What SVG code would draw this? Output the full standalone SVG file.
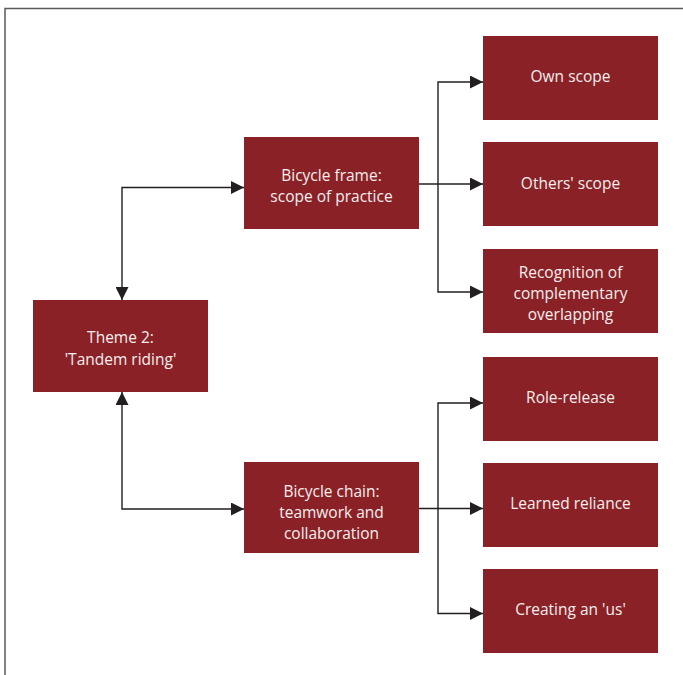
<svg xmlns="http://www.w3.org/2000/svg" width="683" height="675" viewBox="0 0 683 675">
<defs>
<marker id="ah" markerUnits="userSpaceOnUse" markerWidth="13" markerHeight="13" viewBox="0 0 12 12" refX="12" refY="6" orient="auto">
<path d="M0,0 L12,6 L0,12 Z" fill="#231f20"/>
</marker>
<marker id="ahs" markerUnits="userSpaceOnUse" markerWidth="13" markerHeight="13" viewBox="0 0 12 12" refX="12" refY="6" orient="auto-start-reverse">
<path d="M0,0 L12,6 L0,12 Z" fill="#231f20"/>
</marker>
<style>
.box{fill:#8a2126}
.t{fill:#f6eeee;font-family:"Open Sans","Noto Sans",sans-serif;font-size:15.5px;text-anchor:middle}
.c{fill:none;stroke:#231f20;stroke-width:1.4}
</style>
</defs>
<rect width="683" height="675" fill="#fff"/>
<path d="M5,675 V8.5 H683" fill="none" stroke="#5a5a5a" stroke-width="1.5"/>
<g id="connectors">
<path class="c" d="M122,300 V187.5 H244" marker-start="url(#ahs)" marker-end="url(#ah)"/>
<path class="c" d="M122,392 V509 H244" marker-start="url(#ahs)" marker-end="url(#ah)"/>
<path class="c" d="M419,184 H483" marker-end="url(#ah)"/>
<path class="c" d="M483,82 H438 V292 H483" marker-start="url(#ahs)" marker-end="url(#ah)"/>
<path class="c" d="M419,508.5 H483" marker-end="url(#ah)"/>
<path class="c" d="M483,403 H438 V613.5 H483" marker-start="url(#ahs)" marker-end="url(#ah)"/>
</g>
<g id="theme">
<rect class="box" x="33" y="300" width="175" height="92"/>
<text class="t" x="120.5" y="343">Theme 2:</text>
<text class="t" x="120.5" y="365">'Tandem riding'</text>
</g>
<g id="frame">
<rect class="box" x="244" y="137" width="175" height="92"/>
<text class="t" x="331.5" y="181">Bicycle frame:</text>
<text class="t" x="331.5" y="202">scope of practice</text>
</g>
<g id="chain">
<rect class="box" x="244" y="462" width="175" height="91"/>
<text class="t" x="331.5" y="497">Bicycle chain:</text>
<text class="t" x="331.5" y="517.5">teamwork and</text>
<text class="t" x="331.5" y="538.5">collaboration</text>
</g>
<g id="own">
<rect class="box" x="483" y="36" width="175" height="84"/>
<text class="t" x="570.5" y="82">Own scope</text>
</g>
<g id="others">
<rect class="box" x="483" y="142" width="175" height="84"/>
<text class="t" x="570.5" y="189">Others' scope</text>
</g>
<g id="recognition">
<rect class="box" x="483" y="249" width="175" height="84"/>
<text class="t" x="570.5" y="278">Recognition of</text>
<text class="t" x="570.5" y="299">complementary</text>
<text class="t" x="570.5" y="320">overlapping</text>
</g>
<g id="role">
<rect class="box" x="483" y="357" width="175" height="84"/>
<text class="t" x="570.5" y="403">Role-release</text>
</g>
<g id="learned">
<rect class="box" x="483" y="463" width="175" height="84"/>
<text class="t" x="570.5" y="509">Learned reliance</text>
</g>
<g id="creating">
<rect class="box" x="483" y="569" width="175" height="84"/>
<text class="t" x="570.5" y="615">Creating an 'us'</text>
</g>
</svg>
